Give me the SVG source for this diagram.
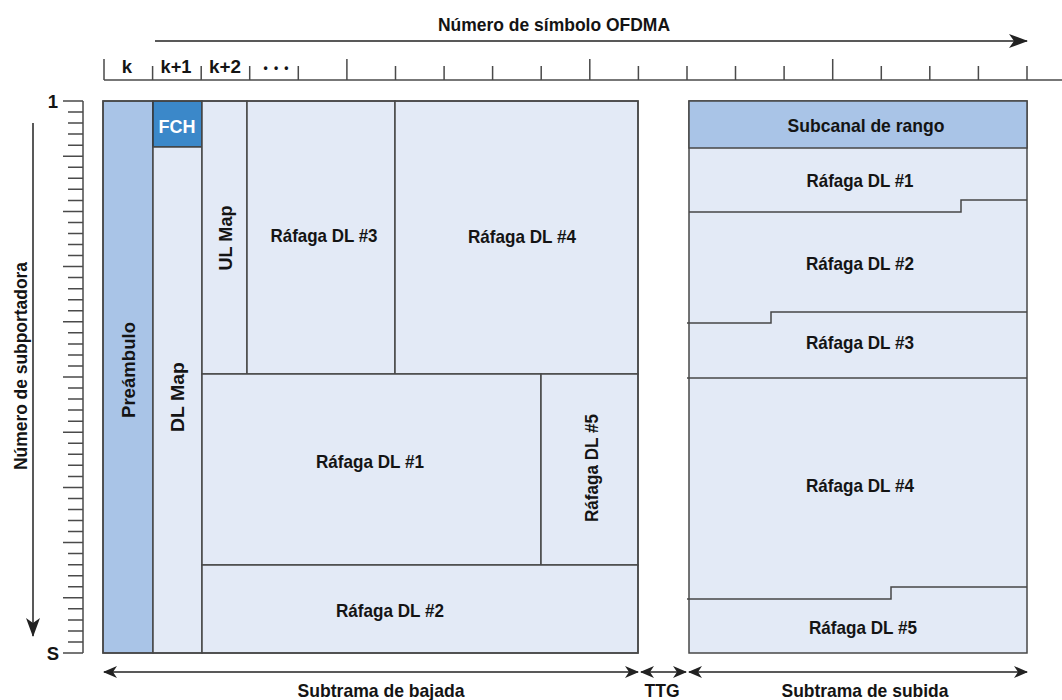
<svg xmlns="http://www.w3.org/2000/svg" width="1062" height="700" viewBox="0 0 1062 700">
<style>
.t{font-family:"Liberation Sans","DejaVu Sans",sans-serif;font-weight:bold;font-size:18.5px;fill:#141414;text-anchor:middle;dominant-baseline:central}
.w{fill:#ffffff}
.lt{fill:#e3eaf6;stroke:#474747;stroke-width:1.5}
.dk{fill:#a9c4e7;stroke:#474747;stroke-width:1.5}
.fc{fill:#3b88c9;stroke:#333;stroke-width:1.5}
.ln{fill:none;stroke:#474747;stroke-width:1.5}
.ax{fill:none;stroke:#4a4a4a;stroke-width:1.5}
.ar{fill:none;stroke:#222;stroke-width:1.5}
.ah{fill:#222;stroke:none}
</style>
<defs>
<marker id="mh" viewBox="0 0 14 12" refX="13" refY="6" markerWidth="14" markerHeight="12" markerUnits="userSpaceOnUse" orient="auto-start-reverse">
<path d="M0,0 L14,6 L0,12 L4,6 Z" class="ah"/>
</marker>
<marker id="mb" viewBox="0 0 19 14" refX="18" refY="7" markerWidth="19" markerHeight="14" markerUnits="userSpaceOnUse" orient="auto">
<path d="M0,0 L19,7 L0,14 L5,7 Z" class="ah"/>
</marker>
</defs>
<rect width="1062" height="700" fill="#ffffff"/>

<g id="axis-top">
<text class="t" x="554" y="24" textLength="232" lengthAdjust="spacingAndGlyphs">Número de símbolo OFDMA</text>
<line class="ax" x1="104" y1="80" x2="1062" y2="80"/>
<path class="ax" d="M104,59V80 M152.6,66V80 M201.2,66V80 M249.7,66V80 M298.3,66V80 M346.9,59V80 M395.5,66V80 M444.1,66V80 M492.6,66V80 M541.2,66V80 M589.8,59V80 M638.4,66V80 M687,66V80 M735.5,66V80 M784.1,66V80 M832.7,59V80 M881.3,66V80 M929.8,66V80 M978.4,66V80 M1027,66V80"/>
<text class="t" x="127" y="66">k</text>
<text class="t" x="176" y="66" textLength="31" lengthAdjust="spacingAndGlyphs">k+1</text>
<text class="t" x="225" y="66" textLength="32" lengthAdjust="spacingAndGlyphs">k+2</text>
<text class="t" x="276" y="68" style="font-size:12px" textLength="25" lengthAdjust="spacing">•••</text>
</g>

<g id="axis-left">
<text class="t" x="53" y="101">1</text>
<text class="t" x="53" y="653">S</text>
<line class="ax" x1="83" y1="101" x2="83" y2="653"/>
<path class="ax" d="M63,101H83 M68,112H83 M68,123.1H83 M68,134.1H83 M68,145.2H83 M63,156.2H83 M68,167.2H83 M68,178.3H83 M68,189.3H83 M68,200.4H83 M63,211.4H83 M68,222.4H83 M68,233.5H83 M68,244.5H83 M68,255.6H83 M63,266.6H83 M68,277.6H83 M68,288.7H83 M68,299.7H83 M68,310.8H83 M63,321.8H83 M68,332.8H83 M68,343.9H83 M68,354.9H83 M68,366H83 M63,377H83 M68,388H83 M68,399.1H83 M68,410.1H83 M68,421.2H83 M63,432.2H83 M68,443.2H83 M68,454.3H83 M68,465.3H83 M68,476.4H83 M63,487.4H83 M68,498.4H83 M68,509.5H83 M68,520.5H83 M68,531.6H83 M63,542.6H83 M68,553.6H83 M68,564.7H83 M68,575.7H83 M68,586.8H83 M63,597.8H83 M68,608.8H83 M68,619.9H83 M68,630.9H83 M68,642H83 M63,653H83"/>
<text class="t" transform="translate(20,366) rotate(-90)" textLength="208" lengthAdjust="spacingAndGlyphs">Número de subportadora</text>
</g>

<g id="preambulo">
<rect class="dk" x="103" y="101" width="50" height="552"/>
<text class="t" transform="translate(128,370) rotate(-90)" textLength="96" lengthAdjust="spacingAndGlyphs">Preámbulo</text>
</g>
<g id="fch">
<rect class="fc" x="153" y="101" width="49" height="46"/>
<text class="t w" x="177" y="126" textLength="37" lengthAdjust="spacingAndGlyphs">FCH</text>
</g>
<g id="dl-map">
<rect class="lt" x="153" y="147" width="49" height="506"/>
<text class="t" transform="translate(177,397) rotate(-90)" textLength="70" lengthAdjust="spacingAndGlyphs">DL Map</text>
</g>
<g id="ul-map">
<rect class="lt" x="202" y="101" width="45" height="273"/>
<text class="t" transform="translate(225,238) rotate(-90)" textLength="65" lengthAdjust="spacingAndGlyphs">UL Map</text>
</g>
<g id="dl-rafaga3">
<rect class="lt" x="247" y="101" width="148" height="273"/>
<text class="t" x="324" y="235" textLength="107" lengthAdjust="spacingAndGlyphs">Ráfaga DL #3</text>
</g>
<g id="dl-rafaga4">
<rect class="lt" x="395" y="101" width="243" height="273"/>
<text class="t" x="522" y="236" textLength="108" lengthAdjust="spacingAndGlyphs">Ráfaga DL #4</text>
</g>
<g id="dl-rafaga1">
<rect class="lt" x="202" y="374" width="339" height="191"/>
<text class="t" x="370" y="461" textLength="108" lengthAdjust="spacingAndGlyphs">Ráfaga DL #1</text>
</g>
<g id="dl-rafaga5">
<rect class="lt" x="541" y="374" width="97" height="191"/>
<text class="t" transform="translate(591,468) rotate(-90)" textLength="108" lengthAdjust="spacingAndGlyphs">Ráfaga DL #5</text>
</g>
<g id="dl-rafaga2">
<rect class="lt" x="202" y="565" width="436" height="88"/>
<text class="t" x="390" y="610" textLength="108" lengthAdjust="spacingAndGlyphs">Ráfaga DL #2</text>
</g>
<rect class="ln" x="103" y="101" width="535" height="552"/>

<g id="subtrama-subida">
<rect class="lt" x="689" y="101" width="338" height="552"/>
</g>
<g id="subcanal-rango">
<rect class="dk" x="689" y="101" width="338" height="47"/>
<text class="t" x="866" y="125" textLength="157" lengthAdjust="spacingAndGlyphs">Subcanal de rango</text>
</g>
<g id="ul-rafaga1">
<text class="t" x="860" y="180" textLength="107" lengthAdjust="spacingAndGlyphs">Ráfaga DL #1</text>
<polyline class="ln" points="689,212 961,212 961,200 1027,200"/>
</g>
<g id="ul-rafaga2">
<text class="t" x="860" y="263" textLength="108" lengthAdjust="spacingAndGlyphs">Ráfaga DL #2</text>
<polyline class="ln" points="687,323 771,323 771,312 1027,312"/>
</g>
<g id="ul-rafaga3">
<text class="t" x="860" y="342" textLength="108" lengthAdjust="spacingAndGlyphs">Ráfaga DL #3</text>
<line class="ln" x1="687" y1="378" x2="1027" y2="378"/>
</g>
<g id="ul-rafaga4">
<text class="t" x="860" y="485" textLength="108" lengthAdjust="spacingAndGlyphs">Ráfaga DL #4</text>
<polyline class="ln" points="687,599 891,599 891,587 1027,587"/>
</g>
<g id="ul-rafaga5">
<text class="t" x="863" y="627" textLength="108" lengthAdjust="spacingAndGlyphs">Ráfaga DL #5</text>
</g>

<g id="connectors">
<line class="ar" x1="155" y1="41" x2="1027" y2="41" marker-end="url(#mb)"/>
<line class="ar" x1="33" y1="123" x2="33" y2="636" marker-end="url(#mb)"/>
<line class="ar" x1="104" y1="672" x2="638" y2="672" marker-start="url(#mh)" marker-end="url(#mh)"/>
<line class="ar" x1="641" y1="672" x2="686" y2="672" marker-start="url(#mh)" marker-end="url(#mh)"/>
<line class="ar" x1="689" y1="672" x2="1027" y2="672" marker-start="url(#mh)" marker-end="url(#mh)"/>
</g>

<g id="labels-bottom">
<text class="t" x="381" y="690" textLength="167" lengthAdjust="spacingAndGlyphs">Subtrama de bajada</text>
<text class="t" x="662" y="690" textLength="35" lengthAdjust="spacingAndGlyphs">TTG</text>
<text class="t" x="865" y="690" textLength="167" lengthAdjust="spacingAndGlyphs">Subtrama de subida</text>
</g>
</svg>
